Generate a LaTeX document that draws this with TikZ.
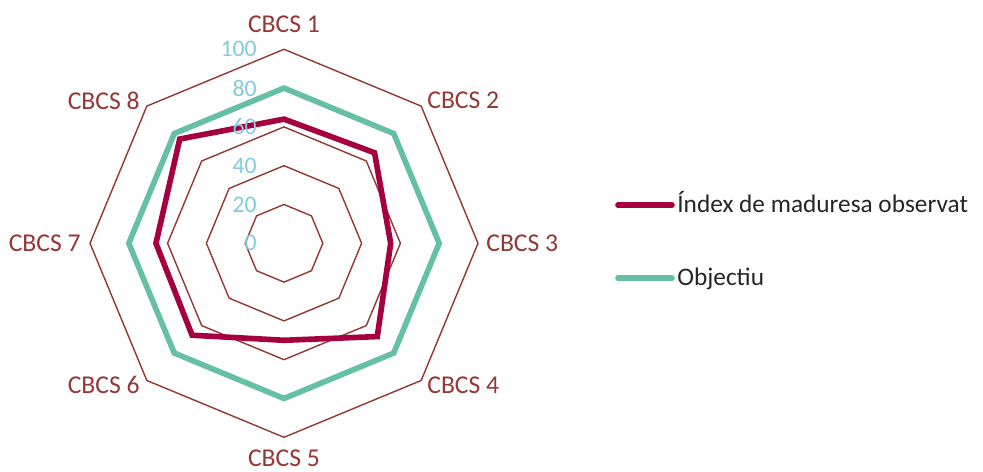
\documentclass[tikz,border=0pt]{standalone}
\usepackage{fontspec}
\setmainfont{Carlito}
\usetikzlibrary{positioning}
\definecolor{grid}{HTML}{953735}
\definecolor{obs}{HTML}{A50040}
\definecolor{goal}{HTML}{66C0A6}
\definecolor{tick}{HTML}{80CBDE}
\definecolor{ink}{HTML}{262626}

\begin{document}
\begin{tikzpicture}[x=0.02cm,y=0.02cm,
  ring/.style={draw=grid,line width=0.8pt,line join=miter},
  series/.style={line width=3.2pt,line join=miter},
  cat/.style={text=grid,inner sep=0pt,font=\fontsize{14.6}{17}\selectfont},
  tk/.style={text=tick,anchor=east,inner sep=0pt,font=\fontsize{13.5}{16}\selectfont},
  leg/.style={text=ink,anchor=base west,inner sep=0pt,font=\fontsize{14.4}{17}\selectfont}]
\useasboundingbox (-284,-228.7) rectangle (699,243.3);
% grid rings
\foreach \r in {20,40,...,100}
  \draw[ring] (90:1.94*\r) \foreach \k in {1,...,7}{ -- (90-45*\k:1.94*\r)} -- cycle;
% target
\draw[series,draw=goal] (90:155.2) \foreach \k in {1,...,7}{ -- (90-45*\k:155.2)} -- cycle;
% observed
\foreach \v [count=\k] in {64,66,55,68,50,67,66,76}
  \coordinate (o\k) at (135-45*\k:1.94*\v);
\draw[series,draw=obs] (o1)--(o2)--(o3)--(o4)--(o5)--(o6)--(o7)--(o8)--cycle;
% category labels
\node[cat] (c1) at (0,219) {CBCS 1};
\node[cat,anchor=west] (c2) at (143,143) {CBCS 2};
\node[cat,anchor=west] (c3) at (202,0) {CBCS 3};
\node[cat,anchor=west] (c4) at (143,-142) {CBCS 4};
\node[cat] (c5) at (0,-215) {CBCS 5};
\node[cat,anchor=east] (c6) at (-144,-142) {CBCS 6};
\node[cat,anchor=east] (c7) at (-203,0) {CBCS 7};
\node[cat,anchor=east] (c8) at (-144,142) {CBCS 8};
% scale
\foreach \v in {0,20,...,100}
  \node[tk] (t\v) at (-27,1.94*\v) {\v};
% legend
\node[leg] (lo) at (393,30.3) {Índex de maduresa observat};
\node[leg] (lg) at (393,-42.7) {Objectiu};
\coordinate (ko1) at (334,38.3);
\coordinate (ko2) at (388,38.3);
\coordinate (kg1) at (334,-34.7);
\coordinate (kg2) at (388,-34.7);
\draw[series,draw=obs,line cap=round] (ko1) -- (ko2);
\draw[series,draw=goal,line cap=round] (kg1) -- (kg2);
\end{tikzpicture}
\end{document}
